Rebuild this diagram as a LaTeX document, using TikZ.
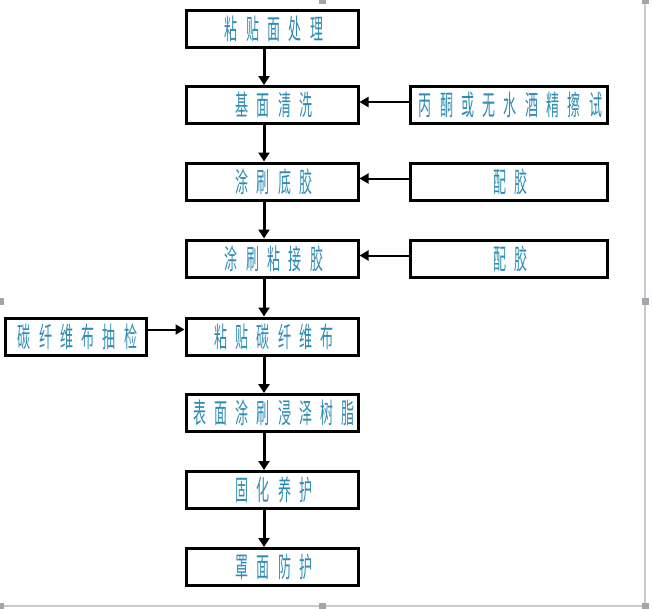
\documentclass[tikz,border=0pt]{standalone}
\usepackage{fontspec}
\newfontfamily\cjk[FakeStretch=0.465,LetterSpace=29.5]{Noto Sans CJK SC}
\usetikzlibrary{arrows.meta}
\definecolor{txt}{HTML}{2F8CB4}
\definecolor{frm}{HTML}{C9C9CE}
\definecolor{hdl}{HTML}{A4A4AC}
\newcommand{\zt}[1]{\makebox[0pt]{\hspace*{4pt}#1}}
\begin{document}
\begin{tikzpicture}[x=1pt,y=-1pt,
  box/.style={draw=black,line width=3pt,minimum width=172pt,minimum height=37pt,inner sep=0pt,font=\cjk\fontsize{28}{28}\selectfont,text=txt},
  sbox/.style={box,minimum width=197pt},
  lbox/.style={box,minimum width=141pt},
  varr/.style={line width=3pt,-{Triangle[length=9pt,width=11pt]}},
  harr/.style={line width=2pt,-{Triangle[length=9pt,width=10pt]}},
  handle/.style={fill=hdl,draw=none}]
\useasboundingbox (0,0) rectangle (653,608);
% frame artefacts
\draw[frm,line width=1.5pt] (645,0) -- (645,606) -- (0,606);
\foreach \p in {(645,0),(645,301),(0,301),(0,606),(322,606),(645,606),(322,0)}
  \fill[hdl] \p ++(-3.5,-3.5) rectangle ++(7,7);
% main column
\node[box] (b1) at (272,28.5) {\zt{粘贴面处理}};
\node[box] (b2) at (272,105) {\zt{基面清洗}};
\node[box] (b3) at (272,181.5) {\zt{涂刷底胶}};
\node[box] (b4) at (272,258.5) {\zt{涂刷粘接胶}};
\node[box] (b5) at (272,336.5) {\zt{粘贴碳纤维布}};
\node[box] (b6) at (272,413) {\zt{表面涂刷浸泽树脂}};
\node[box] (b7) at (272,490) {\zt{固化养护}};
\node[box] (b8) at (272,567) {\zt{罩面防护}};
% side boxes
\node[sbox] (r2) at (508.5,105) {\zt{丙酮或无水酒精擦试}};
\node[sbox] (r3) at (508.5,181.5) {\zt{配胶}};
\node[sbox] (r4) at (508.5,258.5) {\zt{配胶}};
\node[lbox] (l5) at (75.5,336.5) {\zt{碳纤维布抽检}};
% vertical arrows
\foreach \a/\b in {b1/b2,b2/b3,b3/b4,b4/b5,b5/b6,b6/b7,b7/b8}
  \draw[varr] ([xshift=-8pt]\a.south) -- ([xshift=-8pt]\b.north);
% horizontal arrows
\foreach \r/\m in {r2/b2,r3/b3,r4/b4}
  \draw[harr] ([yshift=3pt]\r.west) -- ([yshift=3pt]\m.east);
\draw[harr] ([yshift=7pt]l5.east) -- ([yshift=7pt]b5.west);
\end{tikzpicture}
\end{document}
